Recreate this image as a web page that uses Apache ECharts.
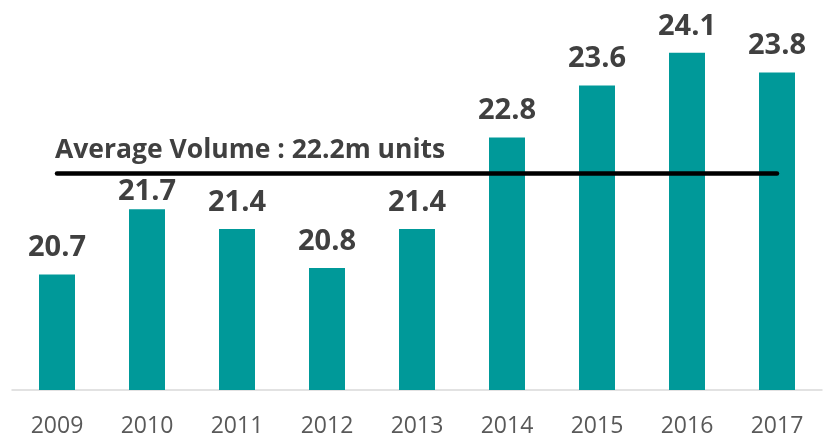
<!DOCTYPE html>
<html>
<head>
<meta charset="utf-8">
<script src="https://cdn.jsdelivr.net/npm/echarts@6/dist/echarts.min.js"></script>
<style>
  html, body { margin: 0; padding: 0; background: #fff; }
  #chart { width: 825px; height: 438px; }
</style>
</head>
<body>
<div id="chart"></div>
<script>
// 年份
const years = ["2009", "2010", "2011", "2012", "2013", "2014", "2015", "2016", "2017"];
// 销量（百万台）
const volumes = [20.7, 21.7, 21.4, 20.8, 21.4, 22.8, 23.6, 24.1, 23.8];
// 平均线文字
const avgText = "Average Volume : 22.2m units";

const myChart = echarts.init(document.getElementById("chart"));
const avg = volumes.reduce((a, b) => a + b, 0) / volumes.length;

// 2010 的标签压低一点，避开平均线
const barData = volumes.map((v, i) =>
  years[i] === "2010" ? { value: v, label: { distance: 3 } } : v
);

const option = {
  animation: false,
  grid: { left: 12, right: 3, top: 10, bottom: 47 },
  xAxis: {
    type: "category",
    data: years,
    axisLine: { lineStyle: { color: "#d9d9d9", width: 1.5 } },
    axisTick: { show: false },
    axisLabel: {
      color: "#595959",
      fontFamily: "Open Sans",
      fontSize: 23,
      margin: 25,
    },
  },
  yAxis: {
    type: "value",
    min: 18.93,
    max: 24.757,
    show: false,
    splitLine: { show: false },
  },
  series: [
    {
      type: "bar",
      data: barData,
      barWidth: 36,
      itemStyle: { color: "#009999" },
      label: {
        show: true,
        position: "top",
        distance: 12,
        color: "#404040",
        fontFamily: "Open Sans",
        fontWeight: "bold",
        fontSize: 29,
      },
      markLine: {
        symbol: "none",
        silent: true,
        lineStyle: { color: "#000", width: 4.5, type: "solid", cap: "round" },
        label: {
          show: true,
          position: "insideStartTop",
          formatter: avgText,
          color: "#404040",
          fontFamily: "Open Sans",
          fontWeight: "bold",
          fontSize: 26.5,
          distance: [-2, 9],
        },
        data: [
          [
            { coord: [years[0], avg] },
            { coord: [years[years.length - 1], avg] },
          ],
        ],
      },
    },
  ],
};
myChart.setOption(option);
</script>
</body>
</html>
